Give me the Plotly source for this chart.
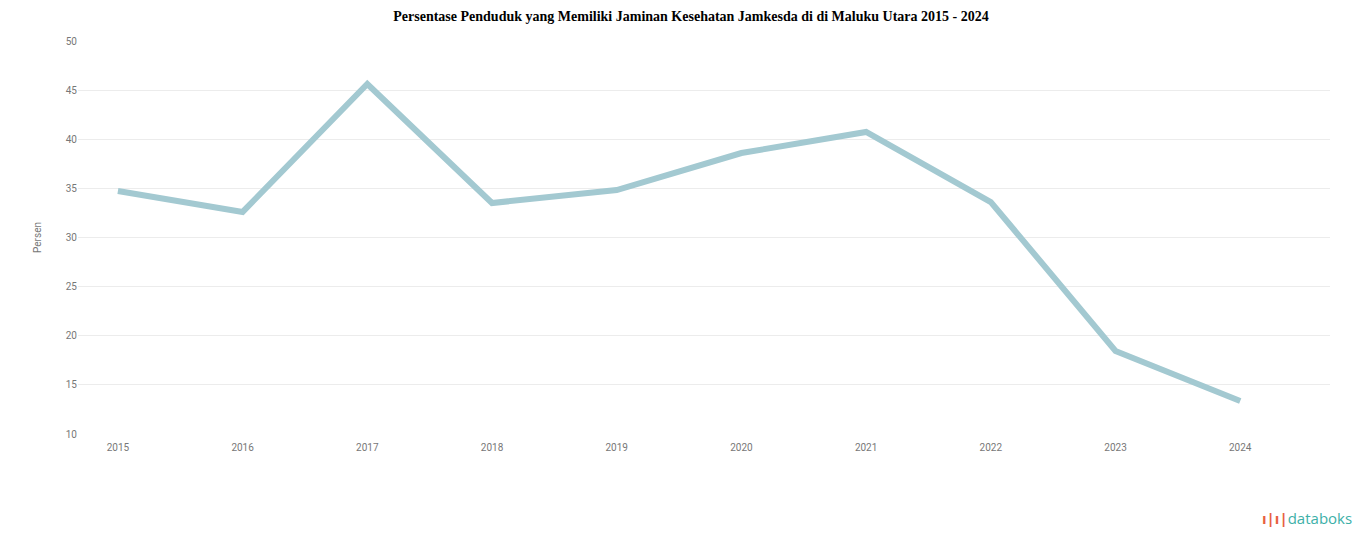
import plotly.graph_objects as go

years = ["2015", "2016", "2017", "2018", "2019", "2020", "2021", "2022", "2023", "2024"]
values = [34.73, 32.6, 45.62, 33.51, 34.83, 38.6, 40.74, 33.61, 18.45, 13.36]
y_ticks = [10, 15, 20, 25, 30, 35, 40, 45, 50]

fig = go.Figure()
fig.add_trace(go.Scatter(
    x=years, y=values, mode="lines",
    line=dict(color="#a3c9d1", width=6),
    hoverinfo="x+y", showlegend=False,
))

fig.update_layout(
    width=1366, height=547,
    paper_bgcolor="white", plot_bgcolor="white",
    margin=dict(l=70, r=44, t=33, b=121, autoexpand=False),
    title=dict(
        text="<b>Persentase Penduduk yang Memiliki Jaminan Kesehatan Jamkesda di di Maluku Utara 2015 - 2024</b>",
        x=0.5, xanchor="center", y=0.995, yanchor="top", pad=dict(t=0, b=0),
        font=dict(family="Liberation Serif", size=14, color="#000"),
    ),
    xaxis=dict(
        type="category", range=[-0.32, 9.72], automargin=False,
        showgrid=False, zeroline=False, showline=False,
        ticks="", ticklabelstandoff=6,
        tickfont=dict(family="Roboto", size=10, color="#777"),
    ),
    yaxis=dict(
        range=[10, 50], tickvals=y_ticks, automargin=False,
        showgrid=True, gridcolor="#ececec", gridwidth=1,
        zeroline=False, showline=False, ticks="",
        tickfont=dict(family="Roboto", size=10, color="#777"),
        title=dict(text="Persen", font=dict(family="Roboto", size=10, color="#777"), standoff=22),
    ),
    annotations=[dict(
        text="<span style='color:#e8603f'><b>ı|ı|</b></span><span style='color:#3db0a8'>databoks</span>",
        xref="paper", yref="paper", x=1.0, y=-0.214, xanchor="right", yanchor="middle",
        showarrow=False, font=dict(family="Open Sans", size=15, color="#3db0a8"),
        xshift=24,
    )],
)

fig.write_html("out.html")
